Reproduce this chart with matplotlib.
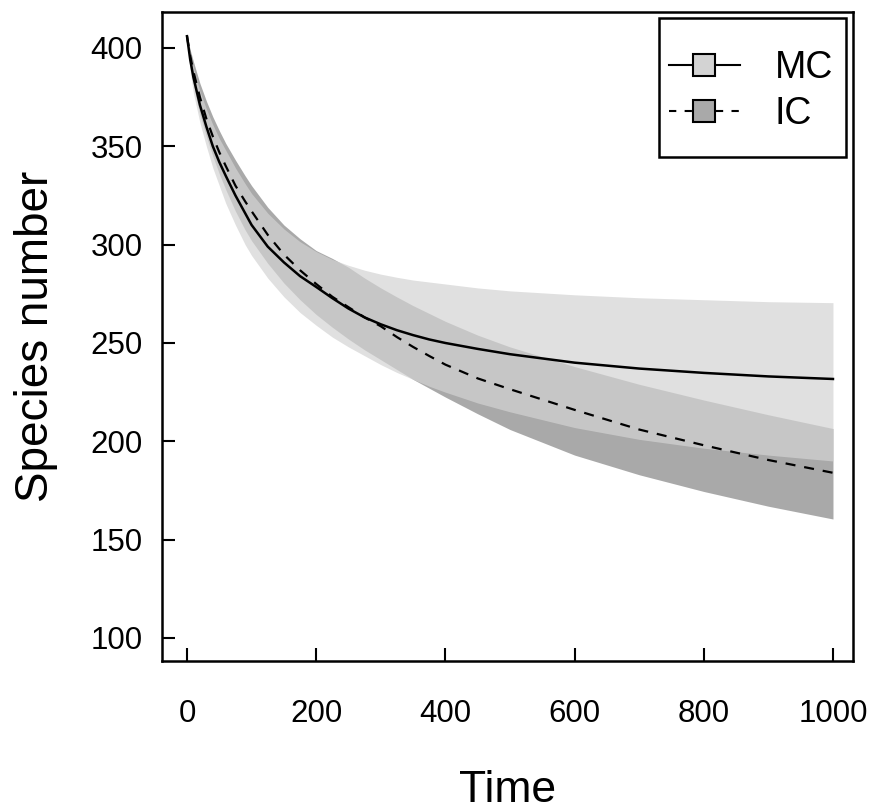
import matplotlib
matplotlib.use("Agg")
import matplotlib.pyplot as plt
from matplotlib.lines import Line2D
from matplotlib.patches import Rectangle

plt.rcParams['font.family'] = ['Liberation Sans', 'DejaVu Sans']

# ---- data ----
time = [0, 5, 10, 20, 30, 40, 50, 60, 75, 90, 100, 125, 150, 175, 200, 225, 250,
        275, 300, 325, 350, 375, 400, 450, 500, 600, 700, 800, 900, 1000]

mc_mean  = [406, 394, 385, 371, 360, 350, 342, 335, 325, 316, 310, 299, 291, 284,
            278.5, 272.8, 267.5, 263, 259.5, 256.5, 254, 251.8, 250, 247, 244.3,
            240, 237, 234.8, 233, 231.7]
mc_upper = [406, 397, 390, 378, 369, 361, 354, 348, 339, 331, 326, 316, 308, 301.5,
            296.5, 292.5, 289.5, 287, 285, 283.4, 282, 281, 280, 278, 276.5,
            274.5, 273, 272, 271, 270.5]
mc_lower = [406, 388, 377, 362, 350, 339, 330, 321, 310, 300, 294.5, 283, 273.5, 265.5,
            259, 253, 248, 243.5, 239, 235, 231.5, 228, 225, 219.5, 215,
            207, 201, 196.5, 193, 190]

ic_mean  = [406, 396, 388, 375, 364, 355, 347, 340, 330, 322, 317, 305, 295, 287,
            280, 273.5, 268.2, 263, 258.5, 253, 248, 243.4, 239, 232, 226.5,
            216, 206, 198, 190.5, 184]
ic_upper = [406, 399, 393, 382, 373, 365, 358, 351.5, 343, 335, 330, 319, 310, 303,
            297, 293, 288.5, 283, 278, 273.4, 269, 265, 261, 254, 248,
            238, 229, 221, 213.5, 206.5]
ic_lower = [406, 391, 381, 366, 355, 345, 336, 328, 317, 307.5, 302, 290.5, 280.5, 272,
            264.5, 258, 252, 246.5, 241.5, 236.5, 231.5, 227, 222.5, 214, 206,
            193, 183, 174.5, 167, 160.5]

series_labels = ["MC", "IC"]
x_ticks = [0, 200, 400, 600, 800, 1000]
y_ticks = [100, 150, 200, 250, 300, 350, 400]

# ---- figure ----
fig = plt.figure(figsize=(8.73, 8.09), dpi=100)
ax = fig.add_axes([162/873, 1-661/809, (853-162)/873, (661-12)/809])

ax.fill_between(time, ic_lower, ic_upper, color='#a9a9a9', lw=0)
ax.fill_between(time, mc_lower, mc_upper, color='#d3d3d3', alpha=0.7, lw=0)

ax.plot(time, mc_mean, color='black', lw=1.8, ls='-')
ax.plot(time, ic_mean, color='black', lw=1.6, ls=(0, (4.5, 4)))

ax.set_xlim(-38.7, 1031)
ax.set_ylim(88.3, 418.3)
ax.set_xticks(x_ticks)
ax.set_yticks(y_ticks)

for s in ax.spines.values():
    s.set_linewidth(1.8)

ax.tick_params(axis='both', direction='in', length=9.4, width=1.5, labelsize=22.5)
ax.tick_params(axis='y', pad=14)
ax.tick_params(axis='x', pad=27)

ax.set_xlabel("Time", fontsize=32)
ax.set_ylabel("Species number", fontsize=33)
ax.xaxis.set_label_coords(0.5, (661-770)/649)
ax.yaxis.set_label_coords((58-162)/691, 0.5)

handles = [
    Line2D([], [], color='black', lw=1.5, ls='-', marker='s', markersize=16,
           markerfacecolor='#d3d3d3', markeredgecolor='black', markeredgewidth=1.5),
    Line2D([], [], color='black', lw=1.5, ls=(0, (3.5, 4)), marker='s', markersize=16,
           markerfacecolor='#a9a9a9', markeredgecolor='black', markeredgewidth=1.5),
]
leg = ax.legend(handles, series_labels, loc='center', frameon=False,
                bbox_to_anchor=((751-162)/691, (661-91)/649),
                fontsize=27, borderpad=0, handlelength=1.9, handletextpad=0.93,
                labelspacing=0.27)

ax.add_patch(Rectangle(((659-162)/691, (661-157)/649),
                       (846-659)/691, (157-18)/649,
                       transform=ax.transAxes, fill=False, lw=1.8,
                       edgecolor='black', zorder=5))

fig.savefig("out.png", dpi=100)
